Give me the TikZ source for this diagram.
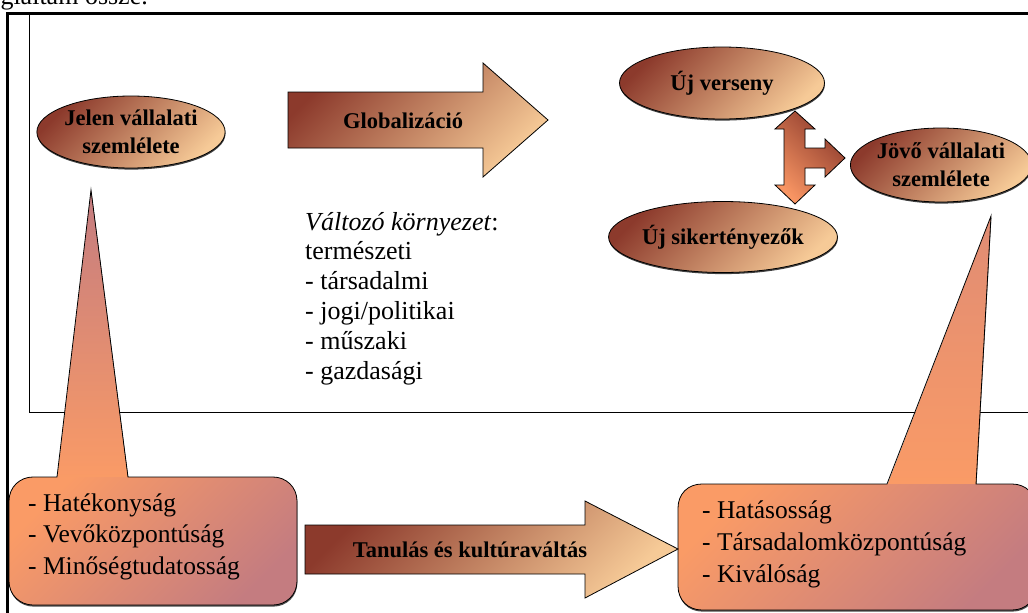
\documentclass[tikz,border=0pt]{standalone}
\usepackage{fontspec}
\setmainfont{Liberation Serif}
\usetikzlibrary{shapes.geometric,shadows}

\definecolor{brownDark}{HTML}{8C3A2C}
\definecolor{peach}{HTML}{F6CA97}
\definecolor{calOrange}{HTML}{FA9B66}
\definecolor{calMauve}{HTML}{C47C80}
\definecolor{tipPink}{HTML}{E08C74}
\definecolor{arrOrange}{HTML}{F89563}

% outlines of the two callouts (box with a pointer) and of their boxes alone
\def\callLshape{(33,477) -- (57,477) -- (91,190) -- (128,477) -- (273,477)
  .. controls (286,477) and (297,487) .. (297,501)
  -- (297,581) .. controls (297,595) and (286,605) .. (273,605)
  -- (33,605) .. controls (20,605) and (9,595) .. (9,581)
  -- (9,501) .. controls (9,487) and (20,477) .. (33,477) -- cycle}
\def\callLbox{(33,477) -- (273,477) .. controls (286,477) and (297,487) .. (297,501)
  -- (297,581) .. controls (297,595) and (286,605) .. (273,605)
  -- (33,605) .. controls (20,605) and (9,595) .. (9,581)
  -- (9,501) .. controls (9,487) and (20,477) .. (33,477) -- cycle}
\def\callRshape{(702,484) -- (887,484) -- (991,216) -- (976,484) -- (1012,484)
  .. controls (1026,484) and (1036,494) .. (1036,508)
  -- (1036,586) .. controls (1036,600) and (1026,610) .. (1012,610)
  -- (702,610) .. controls (688,610) and (678,600) .. (678,586)
  -- (678,508) .. controls (678,494) and (688,484) .. (702,484) -- cycle}
\def\callRbox{(702,484) -- (1012,484) .. controls (1026,484) and (1036,494) .. (1036,508)
  -- (1036,586) .. controls (1036,600) and (1026,610) .. (1012,610)
  -- (702,610) .. controls (688,610) and (678,600) .. (678,586)
  -- (678,508) .. controls (678,494) and (688,484) .. (702,484) -- cycle}

\begin{document}
\begin{tikzpicture}[x=1pt,y=-1pt,
  softshadow/.style={drop shadow={shadow xshift=0.4pt, shadow yshift=-1.6pt, opacity=0.75, fill=black}},
  shadowfill/.style={fill=black, opacity=0.7, shift={(0.4,1.6)}},
  oval/.style={ellipse, draw=black, line width=0.8pt, inner sep=0pt,
    top color=brownDark, bottom color=peach, shading angle=45,
    font=\fontsize{22.5}{28}\selectfont\bfseries, align=center, softshadow},
  bigarrow/.style={draw=black, line width=0.8pt, top color=brownDark, bottom color=peach, shading angle=45},
  arrowlabel/.style={font=\fontsize{22.5}{28}\selectfont\bfseries, inner sep=0pt},
  listtext/.style={anchor=base west, align=left, inner sep=0pt},
  outline/.style={draw=black, line width=0.8pt}
]
\useasboundingbox (0,0) rectangle (1028,613);

% line of running text above the frame
\node[anchor=base east, inner sep=0pt, font=\fontsize{26}{30}\selectfont] (caption) at (148,5) {foglaltam össze.};

% frames
\draw[line width=2.5pt] (7.7,1100) -- (7.7,13.5) -- (1100,13.5);
\draw[line width=0.8pt] (29,14.5) -- (29,412) -- (1100,412);

% left callout: shadow, pointer, box, outline
\fill[shadowfill] \callLshape;
\shade[top color=calMauve, bottom color=calOrange] (57,479) -- (91,190) -- (128,479) -- cycle;
\shade[top color=calOrange, bottom color=calMauve, shading angle=45] \callLbox;
\draw[outline] \callLshape;

% right callout: shadow, pointer, box, outline
\fill[shadowfill] \callRshape;
\shade[top color=tipPink, bottom color=calOrange] (887,486) -- (991,216) -- (976,486) -- cycle;
\shade[top color=calOrange, bottom color=calMauve, shading angle=45] \callRbox;
\draw[outline] \callRshape;

% ovals
\node[oval, minimum width=188pt, minimum height=72pt] (jelen) at (131,132) {Jelen vállalati\\szemlélete};
\node[oval, minimum width=205pt, minimum height=72pt] (verseny) at (722,83) {Új verseny};
\node[oval, minimum width=203pt, minimum height=71pt] (siker) at (723,237) {Új sikertényezők};
\node[oval, minimum width=178pt, minimum height=74pt] (jovo) at (941,165) {Jövő vállalati\\szemlélete};

% globalisation arrow
\path[bigarrow] (288,92) -- (483,92) -- (483,63) -- (548,120) -- (483,177) -- (483,148) -- (288,148) -- cycle;
\node[arrowlabel] (glob) at (403,121) {Globalizáció};

% learning arrow
\path[bigarrow] (305,525) -- (585,525) -- (585,501) -- (678,549) -- (585,598) -- (585,574) -- (305,574) -- cycle;
\node[arrowlabel] (tanul) at (470,550) {Tanulás és kultúraváltás};

% three-way arrow between the new factors and the future view
\path[draw=black, line width=0.8pt, top color=brownDark, bottom color=arrOrange, shading angle=-45]
  (795,111) -- (815,129) -- (805,129) -- (805,148) -- (825,148) -- (825,139) -- (845,158)
  -- (825,177) -- (825,168) -- (805,168) -- (805,185) -- (815,185) -- (795,204)
  -- (775,185) -- (784,185) -- (784,129) -- (775,129) -- cycle;

% changing environment list (anchored at the baseline of its last line)
\node[listtext, font=\fontsize{26}{29.8}\selectfont] (env) at (305,379)
  {\textit{Változó környezet}:\\természeti\\- társadalmi\\- jogi/politikai\\- műszaki\\- gazdasági};

% callout texts (anchored at the baseline of their last lines)
\node[listtext, font=\fontsize{25.5}{31.5}\selectfont] (oldval) at (28,574)
  {- Hatékonyság\\- Vevőközpontúság\\- Minőségtudatosság};
\node[listtext, font=\fontsize{25.5}{32}\selectfont] (newval) at (702,582)
  {- Hatásosság\\- Társadalomközpontúság\\- Kiválóság};
\end{tikzpicture}
\end{document}
